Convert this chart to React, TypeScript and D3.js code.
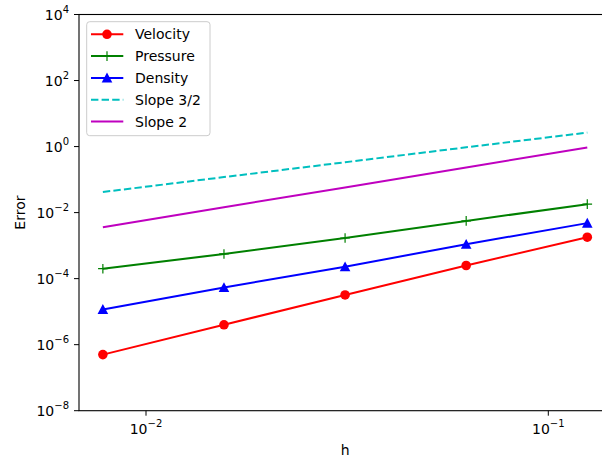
import React from "react";
import * as d3 from "d3";

const hValues = [1 / 128, 1 / 64, 1 / 32, 1 / 16, 1 / 8];
const velocity = [5.0e-7, 4.0e-6, 3.2e-5, 2.5e-4, 1.8e-3];
const pressure = [2.0e-4, 5.6e-4, 1.7e-3, 5.6e-3, 1.8e-2];
const density = [1.17e-5, 5.4e-5, 2.3e-4, 1.1e-3, 4.8e-3];
const slope32 = [0.042, 0.119, 0.335, 0.95, 2.65];
const slope2 = [3.6e-3, 0.0146, 0.058, 0.233, 0.93];
const yTickExps = [-8, -6, -4, -2, 0, 2, 4];
const xTickExps = [-2, -1];
const seriesNames = ["Velocity", "Pressure", "Density", "Slope 3/2", "Slope 2"];

const FONT = "DejaVu Sans, sans-serif";

type Series = {
  name: string;
  values: number[];
  color: string;
  marker: "circle" | "plus" | "triangle" | null;
  dash?: string;
};

const series: Series[] = [
  { name: seriesNames[0], values: velocity, color: "#ff0000", marker: "circle" },
  { name: seriesNames[1], values: pressure, color: "#008000", marker: "plus" },
  { name: seriesNames[2], values: density, color: "#0000ff", marker: "triangle" },
  { name: seriesNames[3], values: slope32, color: "#00bfbf", marker: null, dash: "7.4,3.2" },
  { name: seriesNames[4], values: slope2, color: "#bf00bf", marker: null },
];

function Marker({ type, x, y, color }: { type: Series["marker"]; x: number; y: number; color: string }) {
  if (type === "circle") return <circle cx={x} cy={y} r={4.8} fill={color} />;
  if (type === "triangle") {
    const s = 5.3;
    return <path d={`M${x},${y - s} L${x + s},${y + s * 0.85} L${x - s},${y + s * 0.85} Z`} fill={color} />;
  }
  if (type === "plus") {
    const s = 4.8;
    return (
      <path d={`M${x - s},${y} L${x + s},${y} M${x},${y - s} L${x},${y + s}`} stroke={color} strokeWidth={1.2} fill="none" />
    );
  }
  return null;
}

export default function App() {
  const W = 602;
  const H = 460;
  const left = 79;
  const right = 611.5;
  const top = 14.5;
  const bottom = 410.7;

  const x = d3.scaleLog().domain([0.01, 0.1]).range([146, 548.3]);
  const y = d3.scaleLog().domain([1e-8, 1e4]).range([bottom, top]);

  const line = d3
    .line<[number, number]>()
    .x((d) => x(d[0]))
    .y((d) => y(d[1]));

  const legendX = 86.7;
  const legendY = 21.7;
  const rowH = 21.8;

  return (
    <svg
      width={W}
      height={H}
      style={{ position: "absolute", left: 0, top: 0, display: "block", background: "#fff" }}
      fontFamily={FONT}
    >
      <rect x={0} y={0} width={W} height={H} fill="#fff" />
      {series.map((s) => (
        <g key={s.name}>
          <path
            d={line(hValues.map((h, i) => [h, s.values[i]] as [number, number])) || ""}
            fill="none"
            stroke={s.color}
            strokeWidth={2}
            strokeDasharray={s.dash}
          />
          {s.marker &&
            hValues.map((h, i) => (
              <Marker key={i} type={s.marker} x={x(h)} y={y(s.values[i])} color={s.color} />
            ))}
        </g>
      ))}

      <rect x={left} y={top} width={right - left} height={bottom - top} fill="none" stroke="#000" strokeWidth={1.1} />

      {yTickExps.map((e) => {
        const yy = y(Math.pow(10, e));
        return (
          <g key={e}>
            <line x1={left - 5} x2={left} y1={yy} y2={yy} stroke="#000" strokeWidth={1} />
            <text x={69} y={yy + 5} textAnchor="end" fontSize={14} fill="#000">
              <tspan>10</tspan>
              <tspan dy={-7} fontSize={10}>{e < 0 ? `\u2212${-e}` : `${e}`}</tspan>
            </text>
          </g>
        );
      })}

      {xTickExps.map((e) => {
        const xx = x(Math.pow(10, e));
        return (
          <g key={e}>
            <line x1={xx} x2={xx} y1={bottom} y2={bottom + 5} stroke="#000" strokeWidth={1} />
            <text x={xx} y={433.5} textAnchor="middle" fontSize={14} fill="#000">
              <tspan>10</tspan>
              <tspan dy={-7} fontSize={10}>{`\u2212${-e}`}</tspan>
            </text>
          </g>
        );
      })}

      <text x={(left + right) / 2} y={455} textAnchor="middle" fontSize={14} fill="#000">
        h
      </text>
      <text
        transform={`translate(25, ${(top + bottom) / 2}) rotate(-90)`}
        textAnchor="middle"
        fontSize={14}
        fill="#000"
      >
        Error
      </text>

      <rect
        x={legendX}
        y={legendY}
        width={123.3}
        height={114}
        rx={3}
        ry={3}
        fill="#fff"
        fillOpacity={0.8}
        stroke="#cccccc"
        strokeWidth={1}
      />
      {series.map((s, i) => {
        const cy = 34.3 + i * rowH;
        return (
          <g key={s.name}>
            <line x1={91} x2={123.3} y1={cy} y2={cy} stroke={s.color} strokeWidth={2} strokeDasharray={s.dash} />
            {s.marker && <Marker type={s.marker} x={107} y={cy} color={s.color} />}
            <text x={135} y={cy + 5} fontSize={14} fill="#000">
              {s.name}
            </text>
          </g>
        );
      })}
    </svg>
  );
}
